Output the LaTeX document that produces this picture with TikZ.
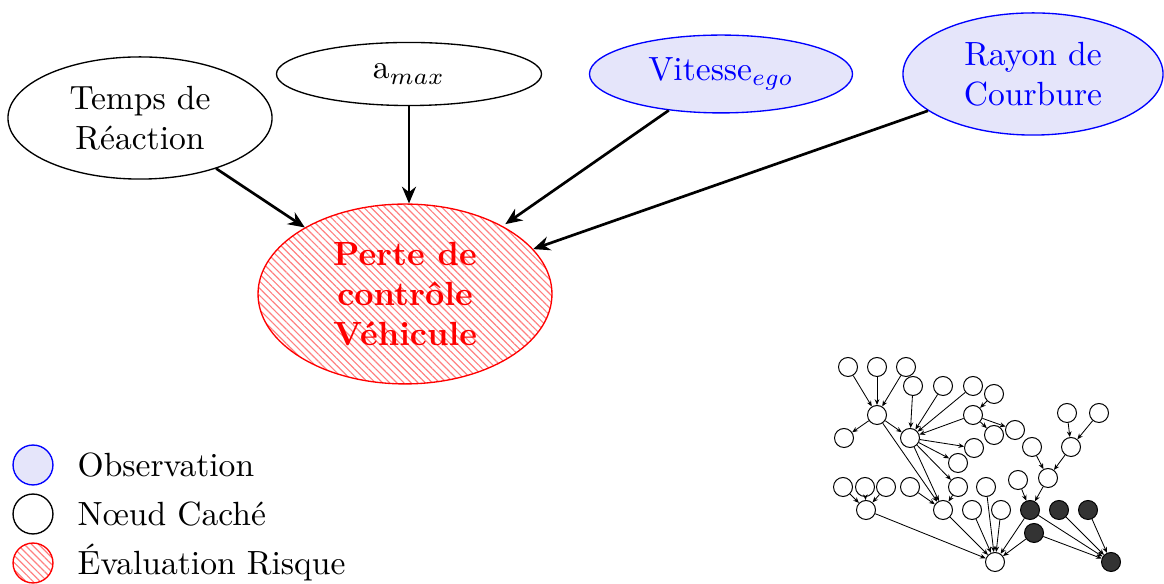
\documentclass[tikz,border=0pt]{standalone}
\usetikzlibrary{arrows.meta,shapes.geometric,patterns.meta}
\definecolor{obsfill}{RGB}{229,229,250}
\definecolor{darknode}{RGB}{51,51,51}
\tikzset{
  main/.style={ellipse,draw=black,line width=0.4pt,inner sep=0pt,align=center},
  obs/.style={main,draw=blue,fill=obsfill,text=blue},
  risk/.style={main,draw=red,text=red,font=\bfseries,
    pattern={Lines[angle=-45,distance=1.5pt,line width=0.35pt]},pattern color=red!50},
  bigarrow/.style={-{Stealth[length=5pt,width=4.2pt]},line width=0.8pt},
  gn/.style={circle,draw=black,fill=white,line width=0.3pt,minimum size=5.66pt,inner sep=0pt},
  gf/.style={gn,fill=darknode},
  ga/.style={-{Stealth[length=1.7pt,width=1.4pt]},line width=0.25pt},
  legobs/.style={circle,draw=blue,fill=obsfill,line width=0.4pt,minimum size=11.9pt,inner sep=0pt},
  leghid/.style={circle,draw=black,line width=0.4pt,minimum size=11.9pt,inner sep=0pt},
  legrisk/.style={circle,draw=red,line width=0.4pt,minimum size=11.9pt,inner sep=0pt,
    pattern={Lines[angle=-45,distance=1.5pt,line width=0.35pt]},pattern color=red!50},
  legtext/.style={anchor=west,inner sep=0pt}
}
\begin{document}
\begin{tikzpicture}[x=0.298pt,y=-0.298pt]
\useasboundingbox (0,0) rectangle (1164,584);
% main nodes
\node[main,minimum width=78.7pt,minimum height=36.4pt] (temps) at (140,118) {Temps de\\R\'eaction};
\node[main,minimum width=79pt,minimum height=18.8pt] (amax) at (409,74) {a$_{max}$};
\node[obs,minimum width=78.4pt,minimum height=23.2pt] (vit) at (721,74) {Vitesse$_{ego}$};
\node[obs,minimum width=77.5pt,minimum height=36.4pt] (rayon) at (1033,74) {Rayon de\\Courbure};
\node[risk,minimum width=87.6pt,minimum height=53.6pt] (perte) at (405,294) {Perte de\\contr\^ole\\V\'ehicule};
\draw[bigarrow] (temps) -- (perte);
\draw[bigarrow] (amax.south) -- (amax.south |- perte.north);
\draw[bigarrow,shorten >=1pt] (vit) -- (perte);
\draw[bigarrow] (rayon) -- (perte);
% legend
\node[legobs] (lo) at (33,465) {};
\node[leghid] (lh) at (33,514) {};
\node[legrisk] (lr) at (33,563) {};
\node[legtext] (tlo) at (77,465) {Observation};
\node[legtext] (tlh) at (77,514) {N\oe ud Cach\'e};
\node[legtext] (tlr) at (77,563) {\'Evaluation Risque};
% small network
\node[gn] (g1) at (848,367) {};
\node[gn] (g2) at (877,367) {};
\node[gn] (g3) at (906,367) {};
\node[gn] (h1) at (877,415) {};
\node[gn] (l1) at (844,438) {};
\node[gn] (b1) at (913,386) {};
\node[gn] (b2) at (943,386) {};
\node[gn] (b3) at (973,386) {};
\node[gn] (b4) at (994,394) {};
\node[gn] (h2) at (910,438) {};
\node[gn] (c1) at (973,415) {};
\node[gn] (c2) at (994,435) {};
\node[gn] (c3) at (1015,430) {};
\node[gn] (d1) at (974,448) {};
\node[gn] (d2) at (958,463) {};
\node[gn] (r1) at (1067,413) {};
\node[gn] (r2) at (1099,413) {};
\node[gn] (r3) at (1032,447) {};
\node[gn] (r4) at (1071,447) {};
\node[gn] (r5) at (1048,478) {};
\node[gn] (r6) at (1018,480) {};
\node[gn] (e1) at (843,487) {};
\node[gn] (e2) at (865,487) {};
\node[gn] (e3) at (886,487) {};
\node[gn] (e4) at (910,487) {};
\node[gn] (e5) at (958,487) {};
\node[gn] (e6) at (986,487) {};
\node[gn] (f1) at (866,510) {};
\node[gn] (f2) at (943,510) {};
\node[gn] (f3) at (972,510) {};
\node[gn] (f4) at (1001,510) {};
\node[gf] (k1) at (1030,510) {};
\node[gf] (k2) at (1059,510) {};
\node[gf] (k3) at (1088,510) {};
\node[gf] (k4) at (1034,533) {};
\node[gn] (z1) at (995,562) {};
\node[gf] (z2) at (1111,562) {};
\foreach \a/\b in {g1/h1,g2/h1,g3/h1,h1/l1,h1/h2,h1/f2,
  b1/h2,b2/h2,b3/h2,c1/h2,h2/d1,h2/d2,h2/f2,h2/e5,
  b4/c1,c1/c2,c1/c3,
  r1/r4,r2/r4,r3/r5,r4/r5,r6/k1,r5/k1,
  e1/f1,e2/f1,e3/f1,e4/f2,e5/f2,
  f1/z1,f2/z1,f3/z1,e6/z1,f4/z1,k1/z1,k4/z1,
  k1/z2,k2/z2,k3/z2,k4/z2}
  \draw[ga] (\a) -- (\b);
\end{tikzpicture}
\end{document}
